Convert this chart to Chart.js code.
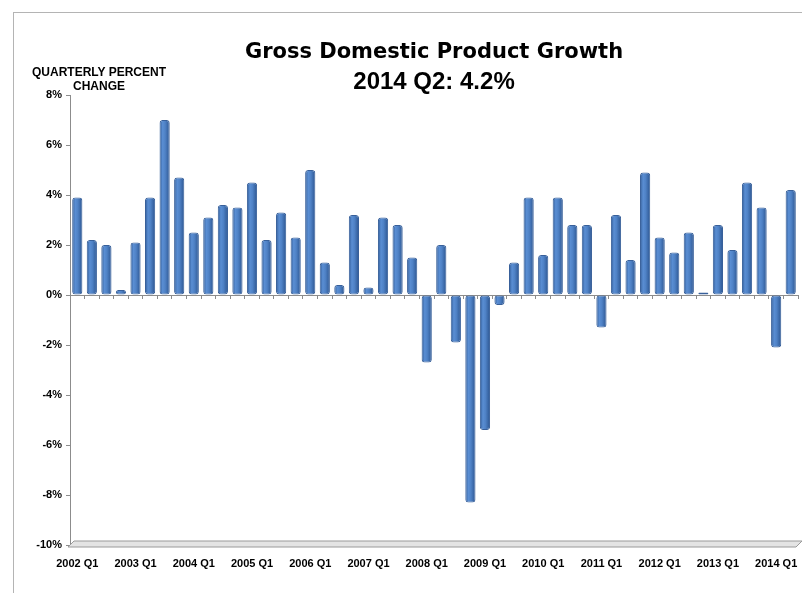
<!DOCTYPE html>
<html>
<head>
<meta charset="utf-8">
<script src="https://cdn.jsdelivr.net/npm/chart.js@4.4.1/dist/chart.umd.min.js"></script>
<style>
  html, body { margin: 0; padding: 0; background: #fff; }
  #wrap { position: relative; width: 802px; height: 593px; }
  /* thin grey frame along the top and left edge */
  #frame { position: absolute; left: 13px; top: 12px; right: 0; bottom: 0;
           border-top: 1px solid #b4b4b4; border-left: 1px solid #b4b4b4; pointer-events: none; }
  #unit { position: absolute; left: 24px; top: 65px; width: 150px; text-align: center;
          font: bold 12px "Liberation Sans", Arial, sans-serif; line-height: 14px; color: #000; }
</style>
</head>
<body>
<div id="wrap">
  <canvas id="gdp"></canvas>
  <div id="frame"></div>
  <div id="unit">QUARTERLY PERCENT<br>CHANGE</div>
</div>
<script>
/* real GDP growth, quarterly percent change at annual rate */
const years = [2002, 2003, 2004, 2005, 2006, 2007, 2008, 2009, 2010, 2011, 2012, 2013, 2014];
const quarters = ['Q1', 'Q2', 'Q3', 'Q4'];
const growth = [
  3.9, 2.2, 2.0, 0.2,    // 2002
  2.1, 3.9, 7.0, 4.7,    // 2003
  2.5, 3.1, 3.6, 3.5,    // 2004
  4.5, 2.2, 3.3, 2.3,    // 2005
  5.0, 1.3, 0.4, 3.2,    // 2006
  0.3, 3.1, 2.8, 1.5,    // 2007
  -2.7, 2.0, -1.9, -8.3, // 2008
  -5.4, -0.4, 1.3, 3.9,  // 2009
  1.6, 3.9, 2.8, 2.8,    // 2010
  -1.3, 3.2, 1.4, 4.9,   // 2011
  2.3, 1.7, 2.5, 0.1,    // 2012
  2.8, 1.8, 4.5, 3.5,    // 2013
  -2.1, 4.2              // 2014
];
const tickLabels = ['2002 Q1', '2003 Q1', '2004 Q1', '2005 Q1', '2006 Q1', '2007 Q1', '2008 Q1',
                    '2009 Q1', '2010 Q1', '2011 Q1', '2012 Q1', '2013 Q1', '2014 Q1'];
const yTicks = [-10, -8, -6, -4, -2, 0, 2, 4, 6, 8];

// one label per quarter, only as many as there are values
const categories = years.flatMap(y => quarters.map(q => y + ' ' + q)).slice(0, growth.length);

const barPct = 0.7;

// cylinder shading: dark edges, light band left of centre
function barFill(ctx) {
  const chart = ctx.chart;
  const xs = chart.scales.x;
  if (!chart.chartArea || !xs || ctx.dataIndex === undefined) return '#4a7cc0';
  const cx = xs.getPixelForValue(ctx.dataIndex);
  const half = xs.width / categories.length * barPct / 2;
  const g = chart.ctx.createLinearGradient(cx - half, 0, cx + half, 0);
  g.addColorStop(0, '#2f5a96');
  g.addColorStop(0.3, '#5a8ed3');
  g.addColorStop(0.55, '#4f82c6');
  g.addColorStop(1, '#2c5590');
  return g;
}

// grey 3D-ish floor under the plot
const floorPlugin = {
  id: 'floor',
  beforeDatasetsDraw(chart) {
    const { ctx, chartArea } = chart;
    const yb = chart.scales.y.getPixelForValue(yTicks[0]);
    ctx.save();
    ctx.beginPath();
    ctx.moveTo(chartArea.left - 2, yb + 2);
    ctx.lineTo(chartArea.left + 4, yb - 4);
    ctx.lineTo(chartArea.right + 4, yb - 4);
    ctx.lineTo(chartArea.right - 2, yb + 2);
    ctx.closePath();
    ctx.fillStyle = '#e4e4e4';
    ctx.fill();
    ctx.strokeStyle = '#9a9a9a';
    ctx.lineWidth = 1;
    ctx.stroke();
    ctx.restore();
  }
};

const labelFont = { family: '"Liberation Sans", Arial, sans-serif', size: 11, weight: 'bold' };

new Chart(document.getElementById('gdp'), {
  type: 'bar',
  data: {
    labels: categories,
    datasets: [{
      data: growth,
      backgroundColor: barFill,
      borderColor: '#38609a',
      borderWidth: 1,
      borderRadius: 3,
      borderSkipped: false,
      barPercentage: barPct,
      categoryPercentage: 1
    }]
  },
  options: {
    responsive: true,
    maintainAspectRatio: false,
    animation: false,
    layout: { padding: { left: 0, right: 4, top: 0, bottom: 0 } },
    plugins: {
      legend: { display: false },
      tooltip: { enabled: false },
      title: {
        display: true,
        fullSize: false,
        text: 'Gross Domestic Product Growth',
        color: '#000',
        font: { family: '"DejaVu Sans", sans-serif', size: 21, weight: 'bold', lineHeight: 1.2 },
        padding: { top: 40, bottom: 0 }
      },
      subtitle: {
        display: true,
        fullSize: false,
        text: '2014 Q2: 4.2%',
        color: '#000',
        font: { family: '"Liberation Sans", Arial, sans-serif', size: 24, weight: 'bold', lineHeight: 1.2 },
        padding: { top: 3, bottom: -2 }
      }
    },
    scales: {
      x: {
        offset: true,
        grid: { display: false },
        border: { display: false },
        ticks: {
          autoSkip: false,
          maxRotation: 0,
          padding: 4,
          color: '#000',
          font: labelFont,
          callback: (v, i) => (i % 4 === 0 ? tickLabels[i / 4] : '')
        },
        afterFit: s => { s.height = 48; }
      },
      // tick marks along the zero line between the quarters
      xZero: {
        type: 'category',
        position: { y: 0 },
        offset: true,
        grid: { display: true, drawOnChartArea: false, offset: true, tickLength: 4, color: '#8c8c8c' },
        border: { display: false },
        ticks: { display: false }
      },
      y: {
        min: yTicks[0],
        max: yTicks[yTicks.length - 1],
        afterBuildTicks: s => { s.ticks = yTicks.map(v => ({ value: v })); },
        border: { display: true, color: '#8c8c8c' },
        grid: {
          drawOnChartArea: true,
          tickLength: 4,
          tickColor: '#8c8c8c',
          color: c => (c.tick && c.tick.value === 0 ? '#8c8c8c' : 'rgba(0,0,0,0)')
        },
        ticks: {
          padding: 4,
          color: '#000',
          font: labelFont,
          callback: v => v + '%'
        },
        afterFit: s => { s.width = 70; }
      }
    }
  },
  plugins: [floorPlugin]
});
</script>
</body>
</html>
